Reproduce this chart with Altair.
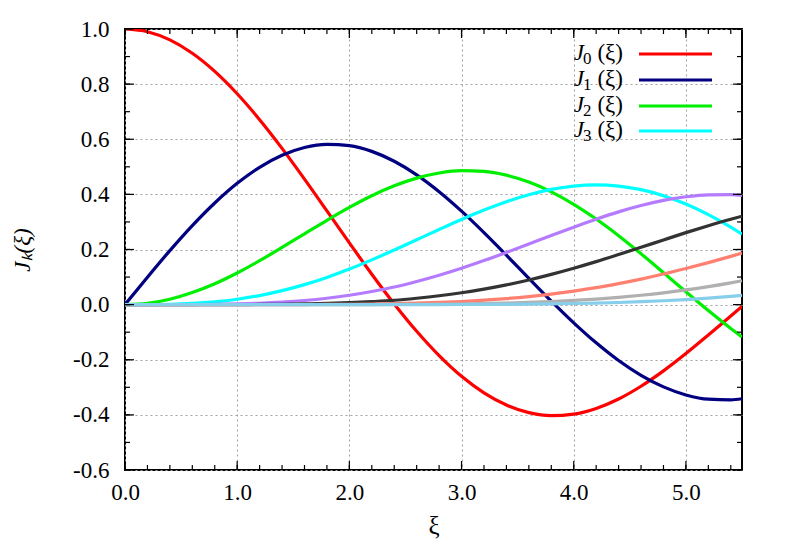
import altair as alt
import pandas as pd

xi = [0.0, 0.2, 0.4, 0.6, 0.8, 1.0, 1.2, 1.4, 1.6, 1.8, 2.0, 2.2, 2.4, 2.6, 2.8, 3.0,
      3.2, 3.4, 3.6, 3.8, 4.0, 4.2, 4.4, 4.6, 4.8, 5.0, 5.2, 5.4, 5.5]

J0 = [1.0, 0.9900, 0.9604, 0.9120, 0.8463, 0.7652, 0.6711, 0.5669, 0.4554, 0.3400, 0.2239,
      0.1104, 0.0025, -0.0968, -0.1850, -0.2601, -0.3202, -0.3643, -0.3918, -0.4026, -0.3971,
      -0.3766, -0.3423, -0.2961, -0.2404, -0.1776, -0.1103, -0.0412, -0.0068]
J1 = [0.0, 0.0995, 0.1960, 0.2867, 0.3688, 0.4401, 0.4983, 0.5419, 0.5699, 0.5815, 0.5767,
      0.5560, 0.5202, 0.4708, 0.4097, 0.3391, 0.2613, 0.1792, 0.0955, 0.0128, -0.0660,
      -0.1386, -0.2028, -0.2566, -0.2985, -0.3276, -0.3432, -0.3453, -0.3414]
J2 = [0.0, 0.0050, 0.0197, 0.0437, 0.0758, 0.1149, 0.1593, 0.2074, 0.2570, 0.3061, 0.3528,
      0.3951, 0.4310, 0.4590, 0.4777, 0.4861, 0.4835, 0.4697, 0.4448, 0.4093, 0.3641,
      0.3105, 0.2501, 0.1846, 0.1161, 0.0466, -0.0217, -0.0867, -0.1173]
J3 = [0.0, 0.0002, 0.0013, 0.0044, 0.0102, 0.0196, 0.0329, 0.0507, 0.0726, 0.0987, 0.1289,
      0.1624, 0.1981, 0.2354, 0.2727, 0.3091, 0.3431, 0.3734, 0.3987, 0.4180, 0.4301,
      0.4343, 0.4302, 0.4171, 0.3953, 0.3649, 0.3265, 0.2811, 0.2561]
J4 = [0.0, 0.0, 0.0001, 0.0003, 0.0011, 0.0025, 0.0050, 0.0091, 0.0150, 0.0232, 0.0340,
      0.0476, 0.0639, 0.0840, 0.1067, 0.1321, 0.1598, 0.1892, 0.2197, 0.2507, 0.2811,
      0.3099, 0.3365, 0.3594, 0.3780, 0.3913, 0.3984, 0.3990, 0.3967]
J5 = [0.0, 0.0, 0.0, 0.0, 0.0001, 0.0002, 0.0006, 0.0013, 0.0025, 0.0043, 0.0070,
      0.0109, 0.0158, 0.0232, 0.0321, 0.0430, 0.0564, 0.0718, 0.0895, 0.1098, 0.1321,
      0.1560, 0.1816, 0.2079, 0.2347, 0.2612, 0.2864, 0.3100, 0.3209]
J6 = [0.0, 0.0, 0.0, 0.0, 0.0, 0.0, 0.0001, 0.0002, 0.0003, 0.0007, 0.0012,
      0.0021, 0.0034, 0.0052, 0.0079, 0.0114, 0.0160, 0.0219, 0.0293, 0.0383, 0.0491,
      0.0615, 0.0762, 0.0926, 0.1110, 0.1311, 0.1524, 0.1751, 0.1868]
J7 = [0.0, 0.0, 0.0, 0.0, 0.0, 0.0, 0.0, 0.0, 0.0, 0.0001, 0.0002,
      0.0003, 0.0006, 0.0010, 0.0016, 0.0025, 0.0038, 0.0056, 0.0080, 0.0112, 0.0152,
      0.0202, 0.0264, 0.0340, 0.0429, 0.0534, 0.0654, 0.0791, 0.0867]
J8 = [0.0, 0.0, 0.0, 0.0, 0.0, 0.0, 0.0, 0.0, 0.0, 0.0, 0.0,
      0.0, 0.0001, 0.0002, 0.0003, 0.0005, 0.0008, 0.0012, 0.0019, 0.0028, 0.0040,
      0.0057, 0.0078, 0.0106, 0.0141, 0.0184, 0.0237, 0.0300, 0.0337]

series_names = ["J0", "J1", "J2", "J3", "J4", "J5", "J6", "J7", "J8"]
series_vals = [J0, J1, J2, J3, J4, J5, J6, J7, J8]
series_colors = ["#ff0000", "#000080", "#00ee00", "#00ffff", "#b57bff",
                 "#333333", "#ff8070", "#b0b0b0", "#87ceeb"]

legend_subs = ["0", "1", "2", "3"]

x_major = [0.0, 1.0, 2.0, 3.0, 4.0, 5.0]
x_minor = [round(0.2 * i, 1) for i in range(28)]
y_major = [-0.6, -0.4, -0.2, 0.0, 0.2, 0.4, 0.6, 0.8, 1.0]
y_minor = [round(-0.6 + 0.1 * i, 1) for i in range(17)]

W, H = 617, 441
FONT = "Liberation Serif"
LBL = "replace(format(datum.value, '.1f'), '\u2212', '-')"

rows = []
for name, vals in zip(series_names, series_vals):
    for xv, yv in zip(xi, vals):
        rows.append({"xi": xv, "J": yv, "k": name})
df = pd.DataFrame(rows)

xs = alt.Scale(domain=[0, 5.5], nice=False)
ys = alt.Scale(domain=[-0.6, 1.0], nice=False)
cs = alt.Scale(domain=series_names, range=series_colors)

lines = alt.Chart(df).mark_line(strokeWidth=3.2, interpolate="monotone", clip=True).encode(
    x=alt.X("xi:Q", scale=xs,
            axis=alt.Axis(values=x_major, labelExpr=LBL, title="\u03be", ticks=False,
                          domain=False, grid=True, gridColor="#a0a0a0", gridDash=[2, 3],
                          gridWidth=1, labelFont=FONT, labelFontSize=23, labelColor="black",
                          labelPadding=11, labelFlush=False, titleFont=FONT, titleFontSize=25,
                          titleFontWeight="normal", titleColor="black",
                          titleY=55, titleBaseline="middle")),
    y=alt.Y("J:Q", scale=ys,
            axis=alt.Axis(values=y_major, labelExpr=LBL, title="J\u2096(\u03be)", ticks=False,
                          domain=False, grid=True, gridColor="#a0a0a0", gridDash=[2, 3],
                          gridWidth=1, labelFont=FONT, labelFontSize=23, labelColor="black",
                          labelPadding=16, labelFlush=False, titleFont=FONT, titleFontSize=23,
                          titleFontWeight="normal", titleFontStyle="italic", titleColor="black",
                          titleX=-103, titleY=H / 2, titleAngle=-90, titleBaseline="middle")),
    color=alt.Color("k:N", scale=cs, legend=None),
    order=alt.Order("k:N"),
)

# inward tick marks on all four sides
def xticks(vals, length):
    d = pd.DataFrame({"t": vals})
    bot = alt.Chart(d).mark_rule(color="black", strokeWidth=1.2).encode(
        x=alt.X("t:Q", scale=xs), y=alt.value(H), y2=alt.value(H - length))
    top = alt.Chart(d).mark_rule(color="black", strokeWidth=1.2).encode(
        x=alt.X("t:Q", scale=xs), y=alt.value(0), y2=alt.value(length))
    return [bot, top]

def yticks(vals, length):
    d = pd.DataFrame({"t": vals})
    left = alt.Chart(d).mark_rule(color="black", strokeWidth=1.2).encode(
        y=alt.Y("t:Q", scale=ys), x=alt.value(0), x2=alt.value(length))
    right = alt.Chart(d).mark_rule(color="black", strokeWidth=1.2).encode(
        y=alt.Y("t:Q", scale=ys), x=alt.value(W), x2=alt.value(W - length))
    return [left, right]

ticks = xticks(x_minor, 5) + xticks(x_major, 9) + yticks(y_minor, 5) + yticks(y_major, 9)

# legend (top right, inside), one row per layer: J (italic), subscript, (xi)
legend_layers = []
row_y = [25, 51, 77, 102]
for sub, name, yy in zip(legend_subs, series_names[:4], row_y):
    d = pd.DataFrame({"J": ["J"], "sub": [sub], "arg": ["(\u03be)"], "k": [name]})
    legend_layers.append(
        alt.Chart(d).mark_text(font=FONT, fontSize=23, fontStyle="italic", align="right",
                               baseline="middle", color="black").encode(
            x=alt.value(459), y=alt.value(yy - 1), text="J:N"))
    legend_layers.append(
        alt.Chart(d).mark_text(font=FONT, fontSize=17, align="left",
                               baseline="middle", color="black").encode(
            x=alt.value(458), y=alt.value(yy + 5), text="sub:N"))
    legend_layers.append(
        alt.Chart(d).mark_text(font=FONT, fontSize=23, align="right",
                               baseline="middle", color="black").encode(
            x=alt.value(498), y=alt.value(yy - 1), text="arg:N"))
    legend_layers.append(
        alt.Chart(d).mark_rule(strokeWidth=3.2).encode(
            x=alt.value(514), x2=alt.value(587), y=alt.value(yy),
            color=alt.Color("k:N", scale=cs, legend=None)))

chart = alt.layer(lines, *ticks, *legend_layers).properties(
    width=W, height=H,
    autosize=alt.AutoSizeParams(type="none"),
    padding={"left": 117, "top": 21, "right": 30, "bottom": 74},
    background="white",
).configure_view(stroke="black", strokeWidth=2)

chart.save("out.html", embed_options={"renderer": "svg", "actions": False})
